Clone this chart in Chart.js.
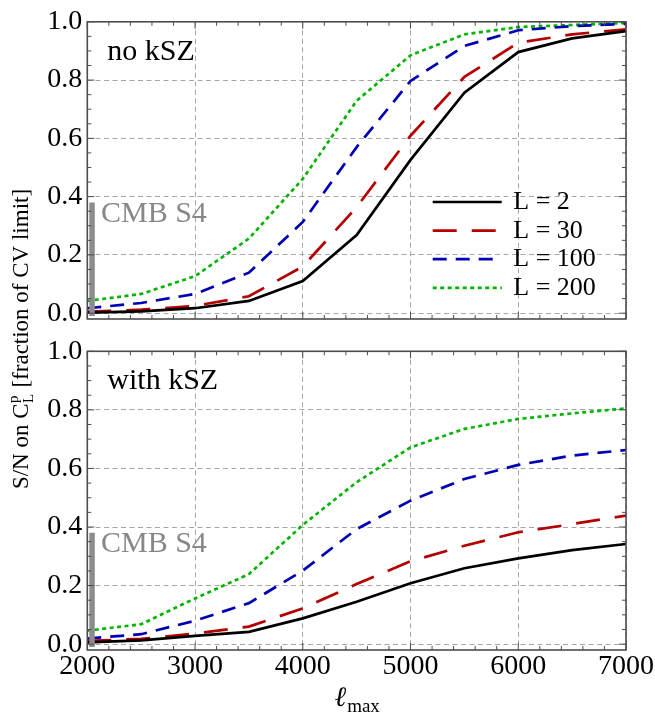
<!DOCTYPE html>
<html>
<head>
<meta charset="utf-8">
<script src="https://cdn.jsdelivr.net/npm/chart.js@4.4.1/dist/chart.umd.min.js"></script>
<style>
  html, body { margin: 0; padding: 0; background: #fff; }
  #wrap { position: relative; width: 655px; height: 719px; }
  canvas { position: absolute; left: 0; top: 0; }
</style>
</head>
<body>
<div id="wrap">
  <canvas id="panel-top" width="655" height="719"></canvas>
  <canvas id="panel-bottom" width="655" height="719"></canvas>
</div>
<script>
// l_max sampling
const lmax = [2000, 2500, 3000, 3500, 4000, 4500, 5000, 5500, 6000, 6500, 7000];

// S/N fraction, no kSZ
const noKszL2   = [0.002, 0.006, 0.017, 0.042, 0.110, 0.268, 0.526, 0.757, 0.896, 0.943, 0.968];
const noKszL30  = [0.005, 0.012, 0.025, 0.058, 0.160, 0.364, 0.609, 0.811, 0.928, 0.957, 0.974];
const noKszL100 = [0.017, 0.035, 0.066, 0.139, 0.313, 0.570, 0.797, 0.917, 0.971, 0.985, 0.993];
const noKszL200 = [0.042, 0.066, 0.127, 0.256, 0.461, 0.729, 0.885, 0.957, 0.982, 0.989, 0.996];

// S/N fraction, with kSZ
const kszL2   = [0.006, 0.013, 0.028, 0.042, 0.088, 0.145, 0.208, 0.259, 0.293, 0.321, 0.342];
const kszL30  = [0.011, 0.018, 0.036, 0.060, 0.122, 0.205, 0.283, 0.336, 0.382, 0.410, 0.439];
const kszL100 = [0.019, 0.034, 0.080, 0.140, 0.251, 0.393, 0.490, 0.564, 0.612, 0.644, 0.663];
const kszL200 = [0.046, 0.068, 0.156, 0.239, 0.407, 0.553, 0.672, 0.735, 0.769, 0.788, 0.805];

const seriesNames = ["L = 2", "L = 30", "L = 100", "L = 200"];
const xTicks = [2000, 3000, 4000, 5000, 6000, 7000];
const yTicks = [0, 0.2, 0.4, 0.6, 0.8, 1.0];

// CMB S4 marker: l_max and S/N extent
const s4Lmax = 2044;
const s4Range = [-0.01, 0.38];

const SERIF = '"Liberation Serif", "Times New Roman", serif';
const lineStyles = [
  { color: "#000000", dash: [] },
  { color: "#b40000", dash: [24, 15] },
  { color: "#0000b4", dash: [14, 9] },
  { color: "#00b400", dash: [4, 3.5] }
];

const decor = {
  id: "decor",
  afterDraw(chart, args, o) {
    const { ctx, chartArea: a, scales: { x, y } } = chart;
    ctx.save();

    // inward tick marks on all four sides
    ctx.strokeStyle = "#4d4d4d";
    ctx.lineWidth = 1;
    ctx.beginPath();
    for (let i = 0; i <= 25; i++) {
      const px = x.getPixelForValue(2000 + i * 200);
      const len = i % 5 === 0 ? 7 : 4;
      ctx.moveTo(px, a.bottom); ctx.lineTo(px, a.bottom - len);
      ctx.moveTo(px, a.top); ctx.lineTo(px, a.top + len);
    }
    for (let i = 0; i <= 20; i++) {
      const py = y.getPixelForValue(i * 0.05);
      const len = i % 4 === 0 ? 7 : 4;
      ctx.moveTo(a.left, py); ctx.lineTo(a.left + len, py);
      ctx.moveTo(a.right, py); ctx.lineTo(a.right - len, py);
    }
    ctx.stroke();

    // frame
    ctx.lineWidth = 1.6;
    ctx.strokeRect(a.left, a.top, a.right - a.left, a.bottom - a.top);

    // panel label
    ctx.fillStyle = "#000";
    ctx.textBaseline = "alphabetic";
    ctx.textAlign = "left";
    ctx.font = "30px " + SERIF;
    ctx.fillText(o.label, a.left + 20, a.top + 38);

    // CMB S4 text
    ctx.fillStyle = "#888888";
    ctx.fillText("CMB S4", x.getPixelForValue(2127), y.getPixelForValue(0.313));

    // legend
    if (o.legend) {
      const x0 = a.right - 193.3, x1 = a.right - 124.3;
      ctx.font = "26px " + SERIF;
      chart.data.datasets.filter(d => d.label).forEach((d, i) => {
        const ry = 202 + i * 28.6;
        ctx.strokeStyle = d.borderColor;
        ctx.lineWidth = d.borderWidth;
        ctx.setLineDash(d.borderDash);
        ctx.beginPath();
        ctx.moveTo(x0, ry); ctx.lineTo(x1, ry);
        ctx.stroke();
        ctx.setLineDash([]);
        ctx.fillStyle = "#000";
        ctx.fillText(d.label, a.right - 112.7, ry + 7);
      });
    }

    // axis titles (drawn once, by the lower panel)
    if (o.titles) {
      ctx.fillStyle = "#000";
      const cx = (a.left + a.right) / 2;
      ctx.font = "italic 28px " + SERIF;
      const wl = ctx.measureText("\u2113").width;
      ctx.font = "19px " + SERIF;
      const wm = ctx.measureText("max").width;
      const sx = cx - (wl + wm) / 2;
      ctx.font = "italic 28px " + SERIF;
      ctx.fillText("\u2113", sx, 706);
      ctx.font = "19px " + SERIF;
      ctx.fillText("max", sx + wl + 1, 712);

      // rotated y title
      ctx.save();
      ctx.translate(28, 339);
      ctx.rotate(-Math.PI / 2);
      const big = "23px " + SERIF, small = "15px " + SERIF;
      const p1 = "S/N on C", p2 = " [fraction of CV limit]";
      ctx.font = big;
      const w1 = ctx.measureText(p1).width, w2 = ctx.measureText(p2).width;
      ctx.font = small;
      const ws = Math.max(ctx.measureText("p").width, ctx.measureText("L").width) + 1;
      let cur = -(w1 + ws + w2) / 2;
      ctx.font = big;
      ctx.fillText(p1, cur, 0);
      cur += w1;
      ctx.font = small;
      ctx.fillText("p", cur + 0.5, -10);
      ctx.fillText("L", cur + 0.5, 5);
      cur += ws;
      ctx.font = big;
      ctx.fillText(p2, cur, 0);
      ctx.restore();
    }
    ctx.restore();
  }
};

function makePanel(id, series, o) {
  const datasets = [{
    label: "",
    data: s4Range.map(v => ({ x: s4Lmax, y: v })),
    borderColor: "#8c8c8c",
    borderWidth: 5.5,
    borderCapStyle: "butt",
    pointRadius: 0
  }].concat(series.map((s, i) => ({
    label: seriesNames[i],
    data: lmax.map((l, j) => ({ x: l, y: s[j] })),
    borderColor: lineStyles[i].color,
    borderDash: lineStyles[i].dash,
    borderWidth: 2.7,
    pointRadius: 0,
    tension: 0,
    fill: false
  })));

  return new Chart(document.getElementById(id), {
    type: "line",
    data: { datasets },
    options: {
      responsive: false,
      animation: false,
      layout: { padding: { left: 0, right: 29, top: o.padTop, bottom: o.padBottom } },
      plugins: {
        legend: { display: false },
        tooltip: { enabled: false },
        decor: o
      },
      scales: {
        x: {
          type: "linear",
          min: 2000,
          max: 7000,
          afterBuildTicks: s => { s.ticks = xTicks.map(v => ({ value: v })); },
          afterFit: s => { s.height = o.xLabels ? 40 : 0; },
          grid: { color: "#a6a6a6", lineWidth: 1, drawTicks: false },
          border: { display: false, dash: [5, 3.5] },
          ticks: {
            display: o.xLabels,
            padding: 0,
            maxRotation: 0,
            color: "#000",
            font: { family: SERIF, size: 28 },
            callback: v => String(v)
          }
        },
        y: {
          min: -0.02,
          max: 1.0,
          afterBuildTicks: s => { s.ticks = yTicks.map(v => ({ value: v })); },
          afterFit: s => { s.width = 87.3; },
          grid: { color: "#a6a6a6", lineWidth: 1, drawTicks: false },
          border: { display: false, dash: [5, 3.5] },
          ticks: {
            padding: 5,
            color: "#000",
            font: { family: SERIF, size: 28 },
            callback: v => v.toFixed(1)
          }
        }
      }
    },
    plugins: [decor]
  });
}

makePanel("panel-top", [noKszL2, noKszL30, noKszL100, noKszL200],
  { label: "no kSZ", legend: true, titles: false, xLabels: false, padTop: 20.7, padBottom: 400 });
makePanel("panel-bottom", [kszL2, kszL30, kszL100, kszL200],
  { label: "with kSZ", legend: false, titles: true, xLabels: true, padTop: 351.3, padBottom: 29 });
</script>
</body>
</html>
